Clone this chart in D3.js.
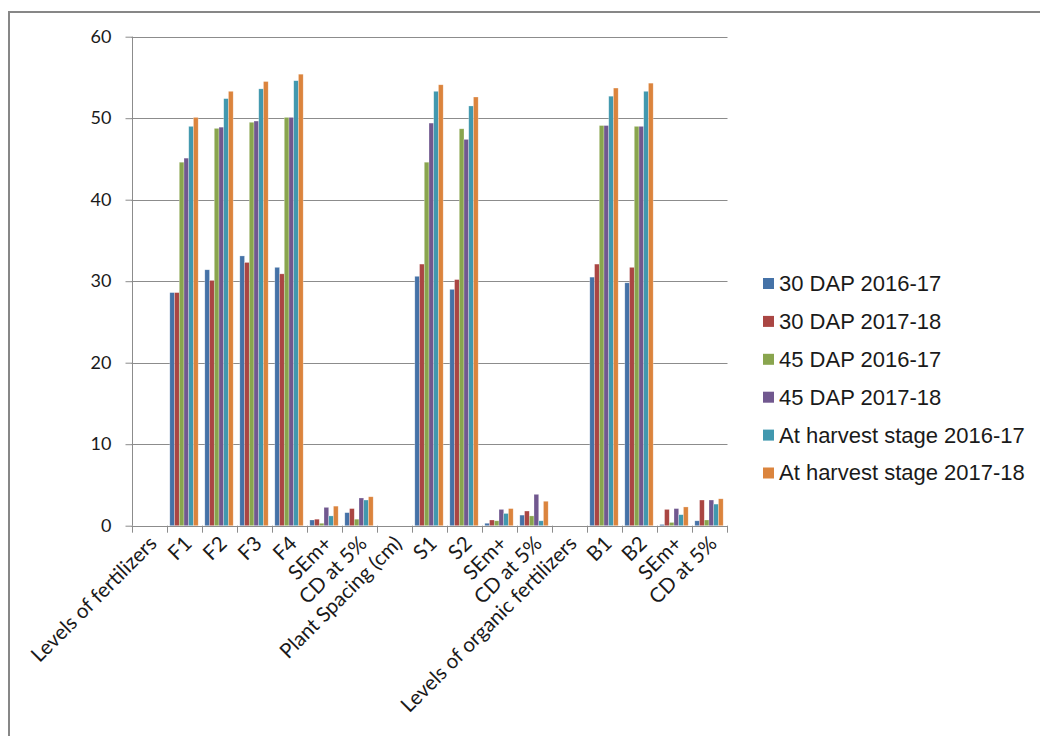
<!DOCTYPE html>
<html>
<head>
<meta charset="utf-8">
<script src="https://cdn.jsdelivr.net/npm/d3@7"></script>
<style>
  html, body { margin: 0; padding: 0; background: #fff; }
  svg { display: block; }
</style>
</head>
<body>
<svg id="chart" width="1040" height="736"></svg>
<script>
// Treatment categories along the x axis
const categories = [
  "Levels of fertilizers", "F1", "F2", "F3", "F4", "SEm+", "CD at 5%",
  "Plant Spacing (cm)", "S1", "S2", "SEm+", "CD at 5%",
  "Levels of organic fertilizers", "B1", "B2", "SEm+", "CD at 5%"
];

const seriesNames = [
  "30 DAP 2016-17", "30 DAP 2017-18", "45 DAP 2016-17",
  "45 DAP 2017-18", "At harvest stage 2016-17", "At harvest stage 2017-18"
];

// One value per category (null = heading row, no bar)
const dap30_1617 = [null, 28.6, 31.4, 33.1, 31.7, 0.7, 1.6, null, 30.6, 29.0, 0.3, 1.3, null, 30.5, 29.8, 0.15, 0.6];
const dap30_1718 = [null, 28.6, 30.1, 32.3, 30.9, 0.8, 2.1, null, 32.1, 30.2, 0.7, 1.8, null, 32.1, 31.7, 2.0, 3.15];
const dap45_1617 = [null, 44.6, 48.75, 49.5, 50.1, 0.3, 0.8, null, 44.6, 48.7, 0.6, 1.2, null, 49.1, 49.0, 0.4, 0.7];
const dap45_1718 = [null, 45.1, 48.9, 49.65, 50.1, 2.25, 3.4, null, 49.4, 47.4, 2.0, 3.85, null, 49.1, 49.0, 2.1, 3.15];
const harvest_1617 = [null, 49.0, 52.4, 53.6, 54.6, 1.2, 3.15, null, 53.3, 51.5, 1.5, 0.6, null, 52.7, 53.3, 1.35, 2.65];
const harvest_1718 = [null, 50.1, 53.3, 54.5, 55.4, 2.4, 3.55, null, 54.1, 52.6, 2.1, 3.0, null, 53.7, 54.3, 2.3, 3.3];

const yTicks = [0, 10, 20, 30, 40, 50, 60];

const colors = ["#4572A7", "#AA4643", "#89A54E", "#71588F", "#4198AF", "#DB843D"];

const seriesValues = [dap30_1617, dap30_1718, dap45_1617, dap45_1718, harvest_1617, harvest_1718];

const svg = d3.select("#chart");

// Outer chart frame
svg.append("rect")
  .attr("x", 9).attr("y", 12)
  .attr("width", 1040).attr("height", 740)
  .attr("fill", "none")
  .attr("stroke", "#878787")
  .attr("stroke-width", 2);

const plot = { left: 131.5, right: 726.5, top: 36.7, bottom: 525.7 };

const x0 = d3.scaleBand()
  .domain(d3.range(categories.length))
  .range([plot.left, plot.right])
  .padding(0);

const pad = x0.bandwidth() * 0.095;
const x1 = d3.scaleBand()
  .domain(d3.range(seriesNames.length))
  .range([pad, x0.bandwidth() - pad])
  .padding(0);

const y = d3.scaleLinear().domain([0, 60]).range([plot.bottom, plot.top]);

// Horizontal gridlines
svg.append("g")
  .selectAll("line")
  .data(yTicks.filter(d => d > 0))
  .join("line")
  .attr("x1", plot.left).attr("x2", plot.right + 1)
  .attr("y1", d => Math.round(y(d)) + 0.5)
  .attr("y2", d => Math.round(y(d)) + 0.5)
  .attr("stroke", "#8c8c8c")
  .attr("stroke-width", 1);

// Y axis
const yAxis = d3.axisLeft(y)
  .tickValues(yTicks)
  .tickSize(7)
  .tickPadding(14)
  .tickFormat(d3.format("d"));

const gy = svg.append("g")
  .attr("transform", `translate(${Math.round(plot.left) + 0.5},0)`)
  .call(yAxis);
gy.select(".domain").attr("stroke", "#8c8c8c").attr("d", `M0,${plot.top}V${plot.bottom}`);
gy.selectAll(".tick line").attr("stroke", "#8c8c8c");
gy.selectAll(".tick text")
  .attr("fill", "#1a1a1a")
  .style("font-family", "Lato, 'Open Sans', sans-serif")
  .style("font-size", "18px");

// Bars
const groups = svg.append("g")
  .selectAll("g")
  .data(categories.map((c, i) => i))
  .join("g")
  .attr("transform", i => `translate(${x0(i)},0)`);

groups.selectAll("rect")
  .data(i => seriesValues.map((vals, s) => ({ s, v: vals[i] })).filter(d => d.v != null))
  .join("rect")
  .attr("x", d => x1(d.s))
  .attr("width", x1.bandwidth())
  .attr("y", d => y(d.v))
  .attr("height", d => y(0) - y(d.v))
  .attr("fill", d => colors[d.s])
  .attr("stroke", "rgba(255,255,255,0.45)")
  .attr("stroke-width", 0.6);

// X axis line and ticks between categories
const gx = svg.append("g");
gx.append("line")
  .attr("x1", plot.left).attr("x2", plot.right + 1)
  .attr("y1", Math.round(plot.bottom) + 0.5).attr("y2", Math.round(plot.bottom) + 0.5)
  .attr("stroke", "#8c8c8c");
gx.selectAll("line.tick")
  .data(d3.range(categories.length + 1))
  .join("line")
  .attr("class", "tick")
  .attr("x1", i => Math.round(plot.left + i * x0.bandwidth()) + 0.5)
  .attr("x2", i => Math.round(plot.left + i * x0.bandwidth()) + 0.5)
  .attr("y1", plot.bottom)
  .attr("y2", plot.bottom + 7)
  .attr("stroke", "#8c8c8c");

// Rotated category labels
gx.selectAll("text")
  .data(categories)
  .join("text")
  .attr("transform", (d, i) => `translate(${x0(i) + x0.bandwidth() / 2 + 4},${plot.bottom + 14}) rotate(-45)`)
  .attr("text-anchor", "end")
  .attr("dy", "0.35em")
  .attr("fill", "#1a1a1a")
  .style("font-family", "Lato, 'Open Sans', sans-serif")
  .style("font-size", "20.5px")
  .text(d => d);

// Legend
const legend = svg.append("g").attr("transform", "translate(763,283)");
const items = legend.selectAll("g")
  .data(seriesNames)
  .join("g")
  .attr("transform", (d, i) => `translate(0,${i * 37.9})`);
items.append("rect")
  .attr("x", 0).attr("y", -5)
  .attr("width", 11).attr("height", 11)
  .attr("fill", (d, i) => colors[i]);
items.append("text")
  .attr("x", 16).attr("y", 0)
  .attr("dy", "0.36em")
  .attr("fill", "#1a1a1a")
  .style("font-family", "'Liberation Sans', Arial, sans-serif")
  .style("font-size", "22px")
  .text(d => d);
</script>
</body>
</html>
